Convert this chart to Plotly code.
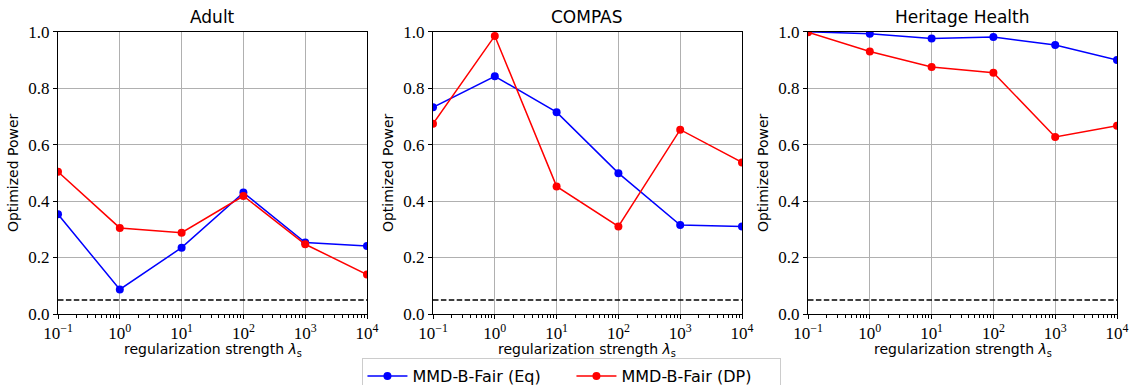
import plotly.graph_objects as go

lam = [0.1, 1, 10, 100, 1000, 10000]
tick_vals = [0.1, 1, 10, 100, 1000, 10000]
tick_text = ["10<sup>−1</sup>", "10<sup>0</sup>", "10<sup>1</sup>", "10<sup>2</sup>", "10<sup>3</sup>", "10<sup>4</sup>"]
y_ticks = [0.0, 0.2, 0.4, 0.6, 0.8, 1.0]
y_tick_text = ["0.0", "0.2", "0.4", "0.6", "0.8", "1.0"]

titles = ["Adult", "COMPAS", "Heritage Health"]
x_title = "regularization strength <i>λ</i><sub>s</sub>"
y_title = "Optimized Power"
eq_adult = [0.353, 0.087, 0.235, 0.430, 0.253, 0.241]
dp_adult = [0.504, 0.305, 0.288, 0.418, 0.247, 0.140]
eq_compas = [0.732, 0.842, 0.715, 0.499, 0.315, 0.310]
dp_compas = [0.674, 0.985, 0.452, 0.310, 0.653, 0.537]
eq_heritage = [1.000, 0.993, 0.976, 0.981, 0.953, 0.900]
dp_heritage = [0.998, 0.930, 0.875, 0.855, 0.627, 0.667]
alpha_level = 0.05

eq_all = [eq_adult, eq_compas, eq_heritage]
dp_all = [dp_adult, dp_compas, dp_heritage]

W, H = 1129, 385
x_domains = [(58, 367), (433, 742), (808, 1117)]
y_dom = [1 - 314 / H, 1 - 31.7 / H]

SERIF = "Liberation Serif"
SANS = "DejaVu Sans"

fig = go.Figure()
for i in range(3):
    xa = "x" if i == 0 else f"x{i+1}"
    ya = "y" if i == 0 else f"y{i+1}"
    fig.add_trace(go.Scatter(
        x=[lam[0], lam[-1]], y=[alpha_level, alpha_level], mode="lines",
        line=dict(color="black", width=1.5, dash="5.5px,2.4px"),
        xaxis=xa, yaxis=ya, showlegend=False, hoverinfo="skip"))
    fig.add_trace(go.Scatter(
        x=lam, y=eq_all[i], mode="lines+markers", name="MMD-B-Fair (Eq)",
        line=dict(color="blue", width=1.5), marker=dict(color="blue", size=8),
        xaxis=xa, yaxis=ya, showlegend=(i == 0), legendgroup="eq"))
    fig.add_trace(go.Scatter(
        x=lam, y=dp_all[i], mode="lines+markers", name="MMD-B-Fair (DP)",
        line=dict(color="red", width=1.5), marker=dict(color="red", size=8),
        xaxis=xa, yaxis=ya, showlegend=(i == 0), legendgroup="dp"))

    x0, x1 = x_domains[i]
    axis_common = dict(showline=True, linecolor="black", linewidth=1, mirror=True,
                       showgrid=True, gridcolor="#b0b0b0", gridwidth=0.8,
                       ticks="outside", ticklen=4, tickcolor="black",
                       zeroline=False, automargin=False, ticklabeloverflow="allow")
    fig.layout[f"xaxis{'' if i == 0 else i+1}"] = dict(
        type="log", range=[-1, 4], domain=[x0 / W, x1 / W], anchor=ya,
        tickvals=tick_vals, ticktext=tick_text,
        tickfont=dict(family=SERIF, size=17, color="black"),
        minor=dict(dtick="D1", ticks="outside", ticklen=2.5, tickwidth=1,
                   tickcolor="black", showgrid=False),
        **axis_common)
    fig.layout[f"yaxis{'' if i == 0 else i+1}"] = dict(
        range=[0, 1], domain=y_dom, anchor=xa,
        tickvals=y_ticks, ticktext=y_tick_text,
        tickfont=dict(family=SERIF, size=17, color="black"),
        title=dict(text=y_title, font=dict(family=SANS, size=14, color="black"), standoff=6),
        **axis_common)
    fig.add_annotation(text=titles[i], x=(x0 + x1) / 2 / W, y=1 - 17 / H,
                       xref="paper", yref="paper", showarrow=False,
                       font=dict(family=SANS, size=17, color="black"),
                       xanchor="center", yanchor="middle")
    fig.add_annotation(text=x_title, x=(x0 + x1) / 2 / W, y=1 - 350 / H,
                       xref="paper", yref="paper", showarrow=False,
                       font=dict(family=SANS, size=14, color="black"),
                       xanchor="center", yanchor="middle")

fig.update_layout(
    width=W, height=H, margin=dict(l=0, r=0, t=0, b=0, autoexpand=False), autosize=False,
    paper_bgcolor="white", plot_bgcolor="white",
    legend=dict(orientation="h", xref="container", yref="container",
                x=0.5066, y=1 - 358 / H, xanchor="center", yanchor="top",
                bordercolor="#cccccc", borderwidth=1, bgcolor="white",
                font=dict(family=SANS, size=16, color="black"),
                itemwidth=40, entrywidth=154, tracegroupgap=0),
    showlegend=True,
)

fig.write_html("out.html",
               config={"responsive": False, "displayModeBar": False},
               post_script="document.body.style.margin='0';document.documentElement.style.overflow='hidden';")
